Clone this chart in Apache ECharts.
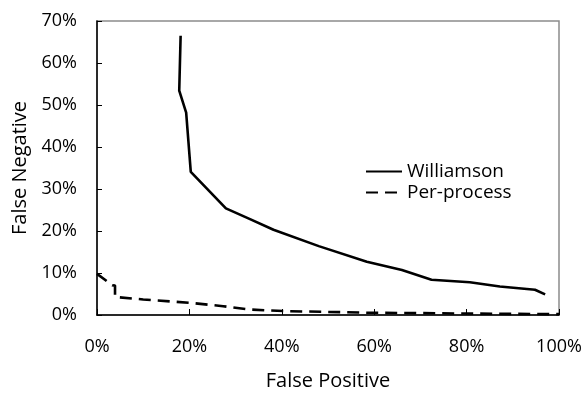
<!DOCTYPE html>
<html>
<head>
<meta charset="utf-8">
<script src="https://cdn.jsdelivr.net/npm/echarts@6/dist/echarts.min.js"></script>
<style>
  html, body { margin: 0; padding: 0; background: #fff; }
  #chart { width: 587px; height: 396px; }
</style>
</head>
<body>
<div id="chart"></div>
<script>
  // false positive (%) / false negative (%)
  var williamsonFP = [18.1, 17.7, 17.8, 19.3, 20.3, 27.9, 33.0, 38.2, 48.0, 58.4, 66.0, 72.4, 80.7, 87.2, 94.8, 97.0]
  var williamsonFN = [66.5, 66.4, 53.4, 48.2, 34.1, 25.4, 22.9, 20.3, 16.4, 12.7, 10.7, 8.4, 7.8, 6.8, 6.0, 4.9]
  var perProcessFP = [0, 3.3, 3.9, 3.9, 4.3, 10.0, 20.1, 27.3, 33.1, 40.3, 58.4, 80.0, 100]
  var perProcessFN = [9.8, 7.1, 7.0, 4.3, 4.2, 3.7, 2.9, 2.1, 1.3, 0.94, 0.55, 0.35, 0.2]
  var seriesNames = ['Williamson', 'Per-process']

  function pairs (xs, ys) {
    let out = []
    for (let i = 0; i < xs.length; i++) {
      out.push([xs[i], ys[i]])
    }
    return out
  }

  var font = '"Open Sans", "Liberation Sans", sans-serif'
  var chart = echarts.init(document.getElementById('chart'), null, {renderer: 'canvas'})
  var option = {
    animation: false,
    grid: {
      left: 97,
      right: 28,
      top: 21,
      bottom: 77,
      show: true,
      borderColor: '#8c8c8c',
      borderWidth: 1.5,
      containLabel: false,
    },
    legend: {
      orient: 'vertical',
      left: 360,
      top: 157,
      itemWidth: 36,
      itemHeight: 14,
      itemGap: 2,
      data: seriesNames,
      itemStyle: {opacity: 0},   // hide the dot, keep the line sample
      textStyle: {
        fontFamily: font,
        fontSize: 19,
        color: '#000',
      },
    },
    xAxis: {
      type: 'value',
      min: 0,
      max: 100,
      interval: 20,
      name: 'False Positive',
      nameLocation: 'middle',
      nameGap: 56,
      nameTextStyle: {
        fontFamily: font,
        fontSize: 20,
        color: '#000',
      },
      axisLine: {
        show: true,
        lineStyle: {color: '#000', width: 1.5},
      },
      axisTick: {
        show: true,
        inside: true,
        length: 6,
        lineStyle: {color: '#000'},
      },
      splitLine: {show: false},
      axisLabel: {
        margin: 23,
        fontFamily: font,
        fontSize: 18,
        color: '#000',
        formatter: '{value}%',
      },
    },
    yAxis: {
      type: 'value',
      min: 0,
      max: 70,
      interval: 10,
      name: 'False Negative',
      nameLocation: 'middle',
      nameGap: 62,
      nameTextStyle: {
        fontFamily: font,
        fontSize: 20,
        color: '#000',
      },
      axisLine: {
        show: true,
        lineStyle: {color: '#000', width: 1.5},
      },
      axisTick: {
        show: true,
        inside: true,
        length: 5,
        lineStyle: {color: '#000'},
      },
      splitLine: {show: false},
      axisLabel: {
        margin: 20,
        fontFamily: font,
        fontSize: 18,
        color: '#000',
        formatter: '{value}%',
      },
    },
    series: [
      {
        name: seriesNames[0],
        type: 'line',
        symbol: 'none',
        data: pairs(williamsonFP, williamsonFN),
        lineStyle: {color: '#000', width: 2.6, type: 'solid'},
        itemStyle: {color: '#000'},
      },
      {
        name: seriesNames[1],
        type: 'line',
        symbol: 'none',
        data: pairs(perProcessFP, perProcessFN),
        lineStyle: {color: '#000', width: 2.6, type: [12, 7]},
        itemStyle: {color: '#000'},
      },
    ],
  }
  chart.setOption(option)
</script>
</body>
</html>
